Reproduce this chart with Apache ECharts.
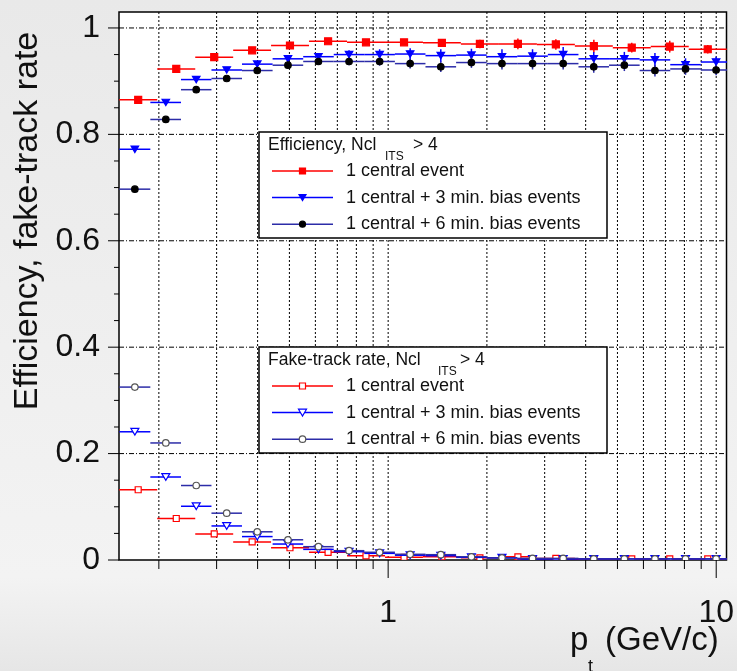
<!DOCTYPE html>
<html><head><meta charset="utf-8">
<script src="https://cdn.jsdelivr.net/npm/echarts@6/dist/echarts.min.js"></script>
<style>
html,body{margin:0;padding:0;}
body{width:737px;height:671px;background:linear-gradient(#e9e9e9,#f3f3f3 86%,#e6e6e6);}
#c{width:737px;height:671px;}
</style></head><body><div id="c"></div>
<script>
// ---------- data ----------
const ptCentral = [0.173,0.226,0.295,0.385,0.502,0.656,0.856,1.118,1.458,1.904,2.486,3.245,4.237,5.528,7.218,9.424];
const ptMinBias = [0.169,0.210,0.260,0.322,0.399,0.495,0.613,0.760,0.942,1.167,1.447,1.794,2.223,2.755,3.416,4.234,5.248,6.505,8.063,9.993];

const effCentral    = [0.865,0.923,0.945,0.958,0.967,0.975,0.973,0.973,0.972,0.970,0.970,0.969,0.966,0.963,0.965,0.960];
const effCentralErr = [0.002,0.002,0.002,0.002,0.002,0.003,0.004,0.005,0.006,0.008,0.010,0.010,0.012,0.009,0.011,0.008];
const eff3mb        = [0.772,0.860,0.903,0.921,0.932,0.942,0.946,0.950,0.950,0.951,0.948,0.949,0.946,0.947,0.950,0.942,0.942,0.940,0.931,0.936];
const eff3mbErr     = [0.002,0.002,0.003,0.003,0.004,0.005,0.006,0.008,0.010,0.011,0.012,0.012,0.014,0.013,0.014,0.013,0.013,0.013,0.012,0.010];
const eff6mb        = [0.697,0.828,0.884,0.905,0.920,0.930,0.937,0.937,0.937,0.933,0.927,0.935,0.933,0.933,0.933,0.927,0.930,0.920,0.923,0.921];
const eff6mbErr     = [0.002,0.002,0.002,0.003,0.004,0.005,0.006,0.007,0.008,0.009,0.010,0.010,0.011,0.011,0.011,0.011,0.011,0.011,0.011,0.010];

const fakeCentral    = [0.132,0.078,0.049,0.034,0.023,0.0145,0.008,0.005,0.006,0.004,0.006,0.003,0.002,0.002,0.002,0.002];
const fakeCentralErr = [0.002,0.003,0.002,0.002,0.002,0.001,0.001,0.001,0.001,0.001,0.001,0.001,0.001,0.001,0.001,0.001];
const fake3mb        = [0.241,0.156,0.101,0.064,0.044,0.030,0.020,0.0156,0.0125,0.009,0.008,0.005,0.004,0.002,0.002,0.002,0.002,0.002,0.002,0.002];
const fake6mb        = [0.325,0.220,0.140,0.088,0.053,0.038,0.025,0.0175,0.0145,0.0107,0.010,0.006,0.004,0.003,0.003,0.002,0.002,0.002,0.002,0.002];
const fakeMbErr      = [0.002,0.002,0.002,0.002,0.002,0.002,0.001,0.001,0.001,0.001,0.001,0.001,0.001,0.001,0.001,0.001,0.001,0.001,0.001,0.001];

const xMajorTicks = [1, 10];
const xMajorLabels = ['1', '10'];
const xMinorTicks = [0.2,0.3,0.4,0.5,0.6,0.7,0.8,0.9,2,3,4,5,6,7,8,9];
const yMajorTicks = [0, 0.2, 0.4, 0.6, 0.8, 1.0];
const yMajorLabels = ['0', '0.2', '0.4', '0.6', '0.8', '1'];
const yMinorTicks = [0.05,0.1,0.15,0.25,0.3,0.35,0.45,0.5,0.55,0.65,0.7,0.75,0.85,0.9,0.95];

const legendEffTitle = 'Efficiency, Ncl';
const legendFakeTitle = 'Fake-track rate, Ncl';
const legendSub = 'ITS';
const legendCut = '> 4';
const legendEntries = ['1 central event', '1 central + 3 min. bias events', '1 central + 6 min. bias events'];
const yTitle = 'Efficiency, fake-track rate';

// ---------- chart ----------
const FONT = '"Liberation Sans", Arial, Helvetica, sans-serif';
const X_MIN = 0.1512, X_MAX = 10.75, Y_MIN = 0, Y_MAX = 1.03;
const RED = '#ff0000', BLUE = '#0000ff', NAVY = '#2c2ca8';

function binEdges(c) {
  return c.map((v, i) => {
    const lo = i > 0 ? Math.sqrt(c[i - 1] * v) : v * Math.sqrt(v / c[1]);
    const hi = i < c.length - 1 ? Math.sqrt(c[i + 1] * v) : v * Math.sqrt(v / c[i - 1]);
    return [lo, hi];
  });
}

function markerShape(kind, cx, cy, s, fill, stroke) {
  const st = { fill: fill, stroke: stroke, lineWidth: 1.2 };
  if (kind === 'square') return { type: 'rect', shape: { x: cx - s / 2, y: cy - s / 2, width: s, height: s }, style: st };
  if (kind === 'circle') return { type: 'circle', shape: { cx: cx, cy: cy, r: s / 2 }, style: st };
  const h = s * 0.85;
  return { type: 'polygon', shape: { points: [[cx - s / 2, cy - h / 2], [cx + s / 2, cy - h / 2], [cx, cy + h / 2]] }, style: st };
}

function histSeries(name, pts, vals, errs, lineColor, marker, size, fill, stroke, z) {
  const e = binEdges(pts);
  const data = pts.map((p, i) => [p, vals[i], e[i][0], e[i][1], errs[i]]);
  return {
    type: 'custom', name: name, data: data, clip: true, z: z,
    renderItem: function (params, api) {
      const x = api.value(0), y = api.value(1), lo = api.value(2), hi = api.value(3), er = api.value(4);
      const c = api.coord([x, y]);
      const a = api.coord([lo, y]), b = api.coord([hi, y]);
      const t = api.coord([x, y + er]), d = api.coord([x, y - er]);
      return {
        type: 'group', children: [
          { type: 'line', shape: { x1: a[0], y1: c[1], x2: b[0], y2: c[1] }, style: { stroke: lineColor, lineWidth: 1.5 } },
          { type: 'line', shape: { x1: c[0], y1: t[1], x2: c[0], y2: d[1] }, style: { stroke: lineColor, lineWidth: 1.5 } },
          markerShape(marker, c[0], c[1], size, fill, stroke)
        ]
      };
    }
  };
}

// axis decorations: grid lines + ticks
const decoData = [];
xMajorTicks.forEach(v => decoData.push(['x', v, 1]));
xMinorTicks.forEach(v => decoData.push(['x', v, 0]));
yMajorTicks.forEach(v => decoData.push(['y', v, 1]));
yMinorTicks.forEach(v => decoData.push(['y', v, 0]));

const decoSeries = {
  type: 'custom', name: 'deco', clip: false, z: 1, silent: true,
  data: decoData.map(d => d[0] === 'x' ? [d[1], 0.5, 0, d[2]] : [1, d[1], 1, d[2]]),
  renderItem: function (params, api) {
    const cs = params.coordSys;
    const isY = api.value(2) === 1, major = api.value(3) === 1;
    const ch = [];
    if (!isY) {
      const px = api.coord([api.value(0), 0.5])[0];
      ch.push({ type: 'line', shape: { x1: px, y1: cs.y, x2: px, y2: cs.y + cs.height }, style: { stroke: '#000', lineWidth: 1, lineDash: [2, 2] } });
      ch.push({ type: 'line', shape: { x1: px, y1: cs.y + cs.height, x2: px, y2: cs.y + cs.height + (major ? 18 : 9) }, style: { stroke: '#000', lineWidth: 1 } });
    } else {
      const py = api.coord([1, api.value(1)])[1];
      if (major && api.value(1) > 0) {
        ch.push({ type: 'line', shape: { x1: cs.x, y1: py, x2: cs.x + cs.width, y2: py }, style: { stroke: '#000', lineWidth: 1, lineDash: [5, 2, 1, 2] } });
      }
      ch.push({ type: 'line', shape: { x1: cs.x - (major ? 11 : 5), y1: py, x2: cs.x, y2: py }, style: { stroke: '#000', lineWidth: 1 } });
    }
    return { type: 'group', children: ch };
  }
};

function legendBox(top, title, subX, cutX, kinds) {
  const L = 259, W = 348, H = 106;
  const els = [
    { type: 'rect', z: 100, shape: { x: L, y: top, width: W, height: H }, style: { fill: '#fff', stroke: '#000', lineWidth: 1.5 } },
    { type: 'text', z: 101, x: 268, y: top + 13, style: { text: title, font: '17.5px ' + FONT, fill: '#111', verticalAlign: 'middle' } },
    { type: 'text', z: 101, x: subX, y: top + 25, style: { text: legendSub, font: '12px ' + FONT, fill: '#111', verticalAlign: 'middle' } },
    { type: 'text', z: 101, x: cutX, y: top + 13, style: { text: legendCut, font: '17.5px ' + FONT, fill: '#111', verticalAlign: 'middle' } }
  ];
  kinds.forEach((k, i) => {
    const cy = top + 39 + i * 26.6;
    els.push({ type: 'line', z: 101, shape: { x1: 272, y1: cy, x2: 333, y2: cy }, style: { stroke: k.color, lineWidth: 1.5 } });
    const m = markerShape(k.marker, 302.5, cy, k.size, k.fill, k.stroke);
    m.z = 102;
    els.push(m);
    els.push({ type: 'text', z: 101, x: 346, y: cy, style: { text: legendEntries[i], font: '18px ' + FONT, fill: '#111', verticalAlign: 'middle' } });
  });
  return els;
}

const graphics = [].concat(
  legendBox(132, legendEffTitle, 385, 413, [
    { color: RED, marker: 'square', size: 6, fill: RED, stroke: RED },
    { color: BLUE, marker: 'tri', size: 7, fill: BLUE, stroke: BLUE },
    { color: NAVY, marker: 'circle', size: 6, fill: '#000', stroke: '#000' }
  ]),
  legendBox(347, legendFakeTitle, 438, 460, [
    { color: RED, marker: 'square', size: 6, fill: '#fff', stroke: RED },
    { color: BLUE, marker: 'tri', size: 8, fill: '#fff', stroke: BLUE },
    { color: NAVY, marker: 'circle', size: 6.5, fill: '#fff', stroke: '#555' }
  ]),
  [
    { type: 'text', x: 28, y: 221, rotation: Math.PI / 2, style: { text: yTitle, font: '34px ' + FONT, fill: '#111', align: 'center', verticalAlign: 'middle' } },
    { type: 'text', x: 570, y: 641, style: { text: 'p', font: '33px ' + FONT, fill: '#111', verticalAlign: 'middle' } },
    { type: 'text', x: 588, y: 667, style: { text: 't', font: '18px ' + FONT, fill: '#111', verticalAlign: 'middle' } },
    { type: 'text', x: 605, y: 641, style: { text: '(GeV/c)', font: '33px ' + FONT, fill: '#111', verticalAlign: 'middle' } }
  ]
);

const chart = echarts.init(document.getElementById('c'), null, { renderer: 'canvas' });
chart.setOption({
  animation: false,
  backgroundColor: 'transparent',
  grid: { left: 119, top: 12, right: 8, bottom: 111, show: true, backgroundColor: '#fff', borderColor: '#000', borderWidth: 1.5 },
  xAxis: {
    type: 'log', logBase: 10, min: X_MIN, max: X_MAX,
    axisLine: { show: false }, axisTick: { show: false }, splitLine: { show: false }, minorTick: { show: false },
    axisLabel: {
      margin: 37, fontSize: 32, color: '#111', fontFamily: FONT,
      formatter: function (v) {
        for (let i = 0; i < xMajorTicks.length; i++) if (Math.abs(Math.log10(v) - Math.log10(xMajorTicks[i])) < 1e-6) return xMajorLabels[i];
        return '';
      }
    }
  },
  yAxis: {
    type: 'value', min: Y_MIN, max: Y_MAX, interval: 0.2,
    axisLine: { show: false }, axisTick: { show: false }, splitLine: { show: false },
    axisLabel: {
      margin: 19, fontSize: 32, color: '#111', fontFamily: FONT,
      formatter: function (v) {
        for (let i = 0; i < yMajorTicks.length; i++) if (Math.abs(v - yMajorTicks[i]) < 1e-6) return yMajorLabels[i];
        return '';
      }
    }
  },
  graphic: graphics,
  series: [
    decoSeries,
    histSeries('eff central', ptCentral, effCentral, effCentralErr, RED, 'square', 7, RED, RED, 5),
    histSeries('eff 3mb', ptMinBias, eff3mb, eff3mbErr, BLUE, 'tri', 7.5, BLUE, BLUE, 6),
    histSeries('eff 6mb', ptMinBias, eff6mb, eff6mbErr, NAVY, 'circle', 6.5, '#000', '#000', 7),
    histSeries('fake central', ptCentral, fakeCentral, fakeCentralErr, RED, 'square', 6, '#fff', RED, 5),
    histSeries('fake 3mb', ptMinBias, fake3mb, fakeMbErr, BLUE, 'tri', 8, '#fff', BLUE, 6),
    histSeries('fake 6mb', ptMinBias, fake6mb, fakeMbErr, NAVY, 'circle', 6.5, '#fff', '#555', 7)
  ]
});
</script></body></html>
